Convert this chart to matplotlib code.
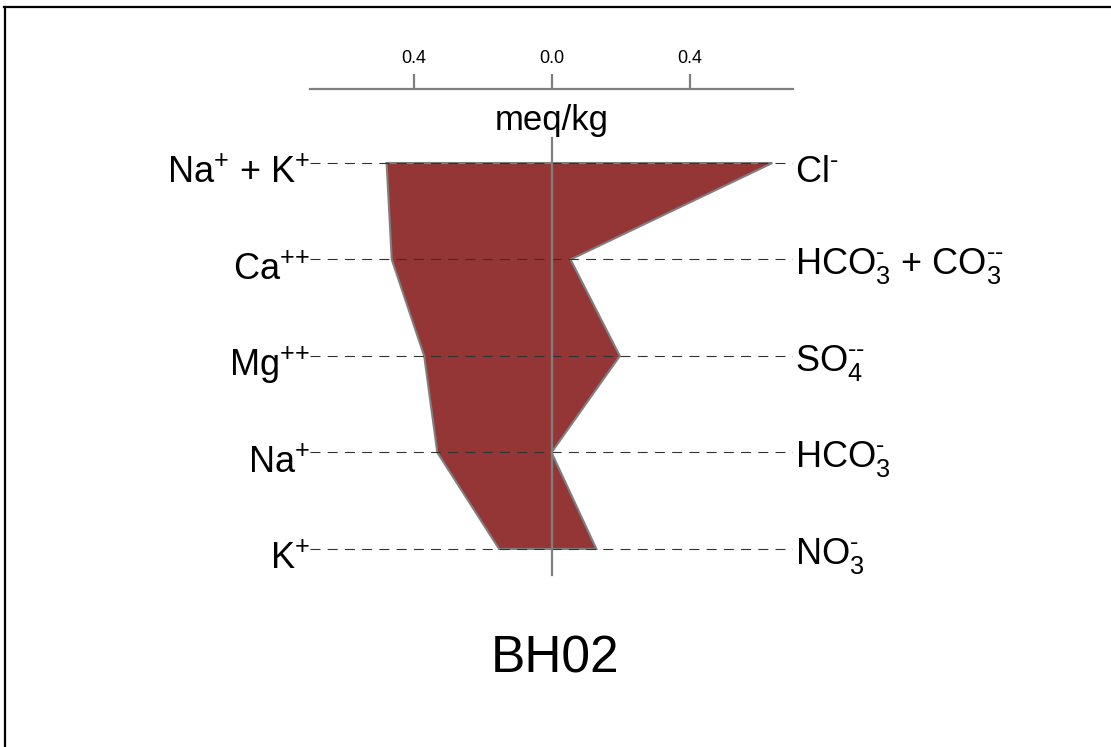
import numpy as np
import matplotlib.pyplot as plt
from matplotlib.lines import Line2D

plt.rcParams['font.family'] = ['Liberation Sans', 'DejaVu Sans']
plt.rcParams['mathtext.fontset'] = 'custom'
plt.rcParams['mathtext.rm'] = 'Liberation Sans'
plt.rcParams['mathtext.it'] = 'Liberation Sans:italic'

#%% data (meq/kg)
cation_labels = [r'$\mathrm{Na}^{\text{+}}$ + $\mathrm{K}^{\text{+}}$', r'$\mathrm{Ca}^{\text{++}}$',
                 r'$\mathrm{Mg}^{\text{++}}$', r'$\mathrm{Na}^{\text{+}}$', r'$\mathrm{K}^{\text{+}}$']
anion_labels = [r'$\mathrm{Cl}^{\text{-}}$',
                r'$\mathrm{HCO}_{3}^{\text{-}}$ + $\mathrm{CO}_{3}^{\text{--}}$',
                r'$\mathrm{SO}_{4}^{\text{--}}$', r'$\mathrm{HCO}_{3}^{\text{-}}$',
                r'$\mathrm{NO}_{3}^{\text{-}}$']
cations = [0.478, 0.463, 0.369, 0.331, 0.152]
anions = [0.640, 0.055, 0.198, 0.0, 0.130]
tick_pos = [-0.4, 0.0, 0.4]
tick_lab = ['0.4', '0.0', '0.4']
sample = 'BH02'

rows = np.arange(1, len(cations) + 1)
# baseline shift of the right labels (subscripted ones sit a bit higher)
anion_shift = [0.197, 0.155, 0.155, 0.155, 0.155]

#%% figure
fig = plt.figure(figsize=(11.11, 7.47), dpi=100)
ax = fig.add_axes([310/1111, 1 - 575/747, 483/1111, 486/747])
ax.set_xlim(-0.7, 0.7)
ax.set_ylim(5.27, 0.233)

# polygon: anions on the right, cations (negative) on the left
px = np.concatenate([anions, -np.array(cations)[::-1]])
py = np.concatenate([rows, rows[::-1]])
ax.fill(px, py, facecolor='#933635', edgecolor='#7f7f7f', lw=1.5, zorder=2)

# dashed guide lines
for r in rows:
    ax.plot([-0.7, 0.7], [r, r], ls=(0, (9, 6.5)), color='#333333', lw=0.8, zorder=3)

# zero line
ax.plot([0, 0], [0.74, 5.27], color='#7f7f7f', lw=1.6, zorder=4, clip_on=False)

# labels
for r, lab in zip(rows, cation_labels):
    ax.text(-0.7, r + 0.207, lab, ha='right', va='baseline', fontsize=26, clip_on=False)
for r, lab, sh in zip(rows, anion_labels, anion_shift):
    ax.text(0.706, r + sh, lab, ha='left', va='baseline', fontsize=26, clip_on=False)

# top axis
for s in ['left', 'right', 'bottom']:
    ax.spines[s].set_visible(False)
ax.spines['top'].set_color('#7f7f7f')
ax.spines['top'].set_linewidth(1.6)
ax.xaxis.tick_top()
ax.set_xticks(tick_pos)
ax.set_xticklabels(tick_lab, fontsize=13)
ax.tick_params(axis='x', direction='out', length=11, width=1.6, color='#7f7f7f', pad=5)
ax.set_yticks([])
ax.patch.set_visible(False)

ax.text(0, 0.658, 'meq/kg', ha='center', va='baseline', fontsize=25, clip_on=False)
ax.text(0.01, 6.285, sample, ha='center', va='baseline', fontsize=37, clip_on=False)

# frame lines (partial box)
fig.add_artist(Line2D([4/1111, 1], [1 - 7/747, 1 - 7/747], color='black', lw=1.6))
fig.add_artist(Line2D([5/1111, 5/1111], [0, 1 - 7/747], color='black', lw=1.6))

fig.savefig('out.png', dpi=100)
